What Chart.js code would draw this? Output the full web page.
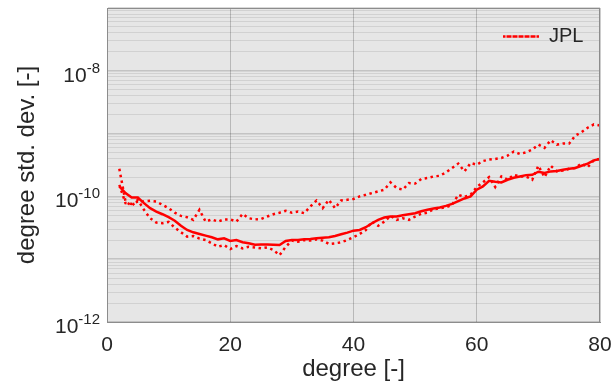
<!DOCTYPE html>
<html>
<head>
<meta charset="utf-8">
<script src="https://cdn.jsdelivr.net/npm/chart.js@4"></script>
<style>
  html, body { margin: 0; padding: 0; background: #fff; }
  #wrap { width: 611px; height: 386px; }
</style>
</head>
<body>
<div id="wrap"><canvas id="myChart"></canvas></div>
<script>
// spherical harmonic degree
const degrees = [2, 3, 4, 5, 6, 7, 8, 9, 10, 11, 12, 13, 14, 15, 16, 17, 18, 19, 20,
  21, 22, 23, 24, 25, 26, 27, 28, 29, 30, 31, 32, 33, 34, 35, 36, 37, 38, 39, 40,
  41, 42, 43, 44, 45, 46, 47, 48, 49, 50, 51, 52, 53, 54, 55, 56, 57, 58, 59, 60,
  61, 62, 63, 64, 65, 66, 67, 68, 69, 70, 71, 72, 73, 74, 75, 76, 77, 78, 79, 80];

// dotted, noisy (legend entry)
const jplValues = [2.75e-10, 8.3e-11, 7.06e-11, 8.83e-11, 6.11e-11, 4.49e-11, 3.83e-11, 3.74e-11, 3.92e-11,
  3.18e-11, 2.68e-11, 2.29e-11, 2.34e-11, 2.13e-11, 2.02e-11, 1.79e-11, 1.58e-11, 1.68e-11, 1.45e-11,
  1.62e-11, 1.49e-11, 1.58e-11, 1.54e-11, 1.49e-11, 1.54e-11, 1.40e-11, 1.16e-11, 1.58e-11, 1.98e-11,
  1.90e-11, 2.02e-11, 1.98e-11, 2.07e-11, 1.98e-11, 1.75e-11, 1.79e-11, 1.86e-11, 2.02e-11, 2.24e-11,
  2.52e-11, 2.92e-11, 3.97e-11, 3.4e-11, 3.97e-11, 4.9e-11, 4.23e-11, 4.49e-11, 4.23e-11, 4.78e-11,
  5.27e-11, 5.5e-11, 6.25e-11, 6.49e-11, 6.7e-11, 7.34e-11, 1.06e-10, 9.8e-11, 1.06e-10, 1.41e-10,
  1.67e-10, 2.03e-10, 1.41e-10, 2.08e-10, 1.84e-10, 2.21e-10, 2.08e-10, 2.08e-10, 1.84e-10, 3.08e-10,
  2.03e-10, 3.08e-10, 2.5e-10, 2.58e-10, 2.75e-10, 2.83e-10, 3.33e-10, 2.92e-10, 3.75e-10, 3.95e-10];

// solid, smoothed
const smoothValues = [1.44e-10, 1.13e-10, 9.6e-11, 9.6e-11, 7.8e-11, 6.5e-11, 5.74e-11, 5.2e-11, 4.66e-11,
  4.1e-11, 3.4e-11, 2.92e-11, 2.68e-11, 2.52e-11, 2.37e-11, 2.24e-11, 2.07e-11, 2.15e-11, 1.95e-11,
  2.02e-11, 1.86e-11, 1.79e-11, 1.70e-11, 1.72e-11, 1.72e-11, 1.70e-11, 1.68e-11, 1.95e-11, 2.02e-11,
  2.02e-11, 2.07e-11, 2.1e-11, 2.15e-11, 2.2e-11, 2.24e-11, 2.34e-11, 2.49e-11, 2.65e-11, 2.85e-11,
  2.92e-11, 3.23e-11, 3.74e-11, 4.23e-11, 4.6e-11, 4.78e-11, 4.78e-11, 5.0e-11, 5.2e-11, 5.4e-11,
  5.8e-11, 6.11e-11, 6.4e-11, 6.65e-11, 7.06e-11, 7.6e-11, 8.4e-11, 9.27e-11, 1.0e-10, 1.28e-10,
  1.44e-10, 1.77e-10, 1.71e-10, 1.67e-10, 1.84e-10, 1.98e-10, 2.08e-10, 2.18e-10, 2.21e-10, 2.47e-10,
  2.36e-10, 2.5e-10, 2.53e-10, 2.66e-10, 2.75e-10, 2.83e-10, 3.08e-10, 3.33e-10, 3.75e-10, 3.95e-10];

// dotted, upper curve
const upperValues = [1.53e-10, 7.8e-11, 7.6e-11, 8.3e-11, 8.3e-11, 8.5e-11, 8.3e-11, 7.34e-11, 6.5e-11,
  5.5e-11, 4.9e-11, 4.66e-11, 4.23e-11, 6.11e-11, 3.97e-11, 4.3e-11, 3.97e-11, 4.3e-11, 4.3e-11,
  3.97e-11, 5.27e-11, 4.49e-11, 4.3e-11, 4.37e-11, 4.78e-11, 5.2e-11, 5.5e-11, 5.9e-11, 5.5e-11,
  5.74e-11, 5.4e-11, 6.9e-11, 8.6e-11, 6.5e-11, 8.83e-11, 6.5e-11, 8.6e-11, 8.83e-11, 9.1e-11,
  1.0e-10, 1.06e-10, 1.13e-10, 1.2e-10, 1.28e-10, 1.67e-10, 1.36e-10, 1.28e-10, 1.63e-10, 1.6e-10,
  1.89e-10, 1.96e-10, 2.08e-10, 2.13e-10, 2.41e-10, 2.83e-10, 3.33e-10, 2.5e-10, 3.4e-10, 3.2e-10,
  3.66e-10, 3.85e-10, 3.95e-10, 4.09e-10, 4.46e-10, 5.16e-10, 4.74e-10, 5.03e-10, 5.56e-10, 6.68e-10,
  5.92e-10, 7.85e-10, 6.68e-10, 6.94e-10, 6.94e-10, 9.3e-10, 1.05e-9, 1.24e-9, 1.40e-9, 1.35e-9];

const xTicks = [0, 20, 40, 60, 80];
const yLabelValues = [1e-12, 1e-10, 1e-8];
const yLabelExps = ['-12', '-10', '-8'];

const RED = '#ff0000';
const FONT = "'Liberation Sans', Arial, sans-serif";
const TXT = '#262626';

function toPoints(vals) {
  return degrees.map((d, i) => ({ x: d, y: vals[i] }));
}
function isDecade(v) {
  const l = Math.log10(v);
  return Math.abs(l - Math.round(l)) < 1e-6;
}

// all log grid positions 1..9 x 10^e
const yGridValues = [];
for (let e = -12; e <= -8; e++) {
  for (let k = 1; k <= 9; k++) yGridValues.push(k * Math.pow(10, e));
}
yGridValues.push(1e-7);

const plotBox = {
  id: 'plotBox',
  afterLayout(chart) {
    // put the legend in the upper right corner of the axes
    const lg = chart.legend;
    const a = chart.chartArea;
    const p = lg.options.labels.padding;
    lg.left = a.right - 97 - p;
    lg.right = a.right;
    lg.top = a.top + 18.5 - p;
  },
  beforeDraw(chart) {
    const { ctx, chartArea: a } = chart;
    ctx.save();
    ctx.fillStyle = '#e6e6e6';
    ctx.fillRect(a.left, a.top, a.right - a.left, a.bottom - a.top);
    ctx.restore();
  },
  afterDraw(chart) {
    const { ctx, chartArea: a } = chart;
    ctx.save();
    ctx.strokeStyle = '#8c8c8c';
    ctx.lineWidth = 1;
    ctx.strokeRect(a.left + 0.5, a.top + 0.5, a.right - a.left - 1, a.bottom - a.top);
    // y tick labels as 10 with a raised exponent
    const ys = chart.scales.y;
    ctx.fillStyle = TXT;
    ctx.textBaseline = 'alphabetic';
    ctx.textAlign = 'right';
    yLabelValues.forEach((v, i) => {
      const py = ys.getPixelForValue(v);
      const xr = a.left - 7;
      ctx.font = '15px ' + FONT;
      const ew = ctx.measureText(yLabelExps[i]).width;
      ctx.fillText(yLabelExps[i], xr, py + 2);
      ctx.font = '21px ' + FONT;
      ctx.fillText('10', xr - ew, py + 11);
    });
    ctx.restore();
  }
};

const ctx = document.getElementById('myChart');

new Chart(ctx, {
  type: 'line',
  data: {
    datasets: [{
      label: 'JPL',
      data: toPoints(jplValues),
      borderColor: RED,
      backgroundColor: RED,
      borderWidth: 2.5,
      borderDash: [2.5, 3.5],
      pointRadius: 0
    }, {
      label: 'smoothed',
      data: toPoints(smoothValues),
      borderColor: RED,
      backgroundColor: RED,
      borderWidth: 2.5,
      pointRadius: 0
    }, {
      label: 'upper',
      data: toPoints(upperValues),
      borderColor: RED,
      backgroundColor: RED,
      borderWidth: 2.5,
      borderDash: [2.5, 3.5],
      pointRadius: 0
    }]
  },
  options: {
    responsive: true,
    maintainAspectRatio: false,
    animation: false,
    layout: { padding: { top: 8, right: 11, left: 0, bottom: 0 } },
    plugins: {
      legend: {
        position: 'chartArea',
        align: 'start',
        labels: {
          filter: item => item.text === 'JPL',
          boxWidth: 36,
          boxHeight: 0,
          padding: 10,
          color: TXT,
          font: { family: FONT, size: 20 }
        }
      },
      tooltip: { enabled: false }
    },
    scales: {
      x: {
        type: 'linear',
        min: 0,
        max: 80,
        afterBuildTicks: s => { s.ticks = xTicks.map(v => ({ value: v })); },
        afterFit: s => { s.height = 64; s.paddingLeft = 0; s.paddingRight = 0; },
        grid: { color: 'rgba(0,0,0,0.2)', drawTicks: false },
        border: { color: '#8c8c8c' },
        ticks: { color: TXT, padding: 11, font: { family: FONT, size: 21 } },
        title: {
          display: true,
          text: 'degree [-]',
          color: TXT,
          padding: { top: 0, bottom: 2 },
          font: { family: FONT, size: 24 }
        }
      },
      y: {
        type: 'logarithmic',
        min: 1e-12,
        max: 1e-7,
        afterBuildTicks: s => { s.ticks = yGridValues.map(v => ({ value: v })); },
        afterFit: s => { s.width = 107; s.paddingTop = 0; s.paddingBottom = 0; },
        grid: {
          drawTicks: false,
          color: c => isDecade(c.tick.value) ? 'rgba(0,0,0,0.15)' : 'rgba(0,0,0,0.09)',
          lineWidth: c => isDecade(c.tick.value) ? 1.5 : 1
        },
        border: { color: '#8c8c8c' },
        ticks: {
          autoSkip: false,
          padding: 7,
          font: { family: FONT, size: 21 },
          callback: () => ''
        },
        title: {
          display: true,
          text: 'degree std. dev. [-]',
          color: TXT,
          padding: { top: 13, bottom: 0 },
          font: { family: FONT, size: 24 }
        }
      }
    }
  },
  plugins: [plotBox]
});
</script>
</body>
</html>
